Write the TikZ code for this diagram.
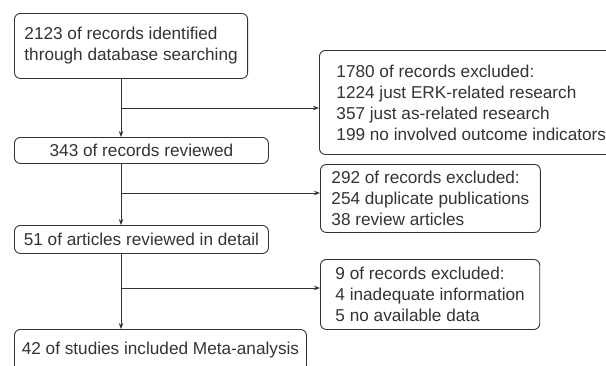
\documentclass[tikz,border=0pt]{standalone}
\usepackage{fontspec}
\setmainfont{Liberation Sans}
\usetikzlibrary{arrows.meta}
\definecolor{ink}{HTML}{333333}
\tikzset{
  box/.style={draw=ink, line width=0.9pt, rounded corners=6pt, anchor=north west,
    inner ysep=0pt, text=ink, font=\fontsize{17.2}{21}\selectfont},
  conn/.style={draw=ink, line width=0.9pt},
  arr/.style={conn, -{Stealth[length=6pt,width=4.5pt]}}
}
\begin{document}
\begin{tikzpicture}[x=1pt,y=-1pt]
\useasboundingbox (0,0) rectangle (606,365);
\node[box, inner xsep=10pt, minimum width=231pt, minimum height=65pt, align=left] (A) at (14,13)
  {2123 of records identified\\through database searching};
\node[box, inner xsep=0pt, minimum width=254pt, minimum height=26pt, align=center] (B) at (14,137)
  {343 of records reviewed};
\node[box, inner xsep=17pt, minimum width=292pt, minimum height=104pt, align=left] (C) at (319,50)
  {1780 of records excluded:\\1224 just ERK-related research\\357 just as-related research\\199 no involved outcome indicators};
\node[box, inner xsep=0pt, minimum width=254pt, minimum height=28pt, align=center] (D) at (14,225)
  {51 of articles reviewed in detail};
\node[box, inner xsep=11pt, minimum width=219pt, minimum height=68pt, align=left] (E) at (320,164)
  {292 of records excluded:\\254 duplicate publications\\38 review articles};
\node[box, inner xsep=15pt, minimum width=219pt, minimum height=70pt, align=left] (G) at (320,259)
  {9 of records excluded:\\4 inadequate information\\5 no available data};
\node[box, inner xsep=0pt, minimum width=292pt, minimum height=42pt, align=center] (F) at (14,329)
  {42 of studies included Meta-analysis};
\coordinate (s) at (121,0);
\coordinate (b1) at (121,108);
\coordinate (b2) at (121,193);
\coordinate (b3) at (121,288);
\draw[arr] (A.south -| s) -- (B.north -| s);
\draw[arr] (b1) -- (b1 -| C.west);
\draw[arr] (B.south -| s) -- (D.north -| s);
\draw[arr] (b2) -- (b2 -| E.west);
\draw[arr] (D.south -| s) -- (F.north -| s);
\draw[arr] (b3) -- (b3 -| G.west);
\end{tikzpicture}
\end{document}
